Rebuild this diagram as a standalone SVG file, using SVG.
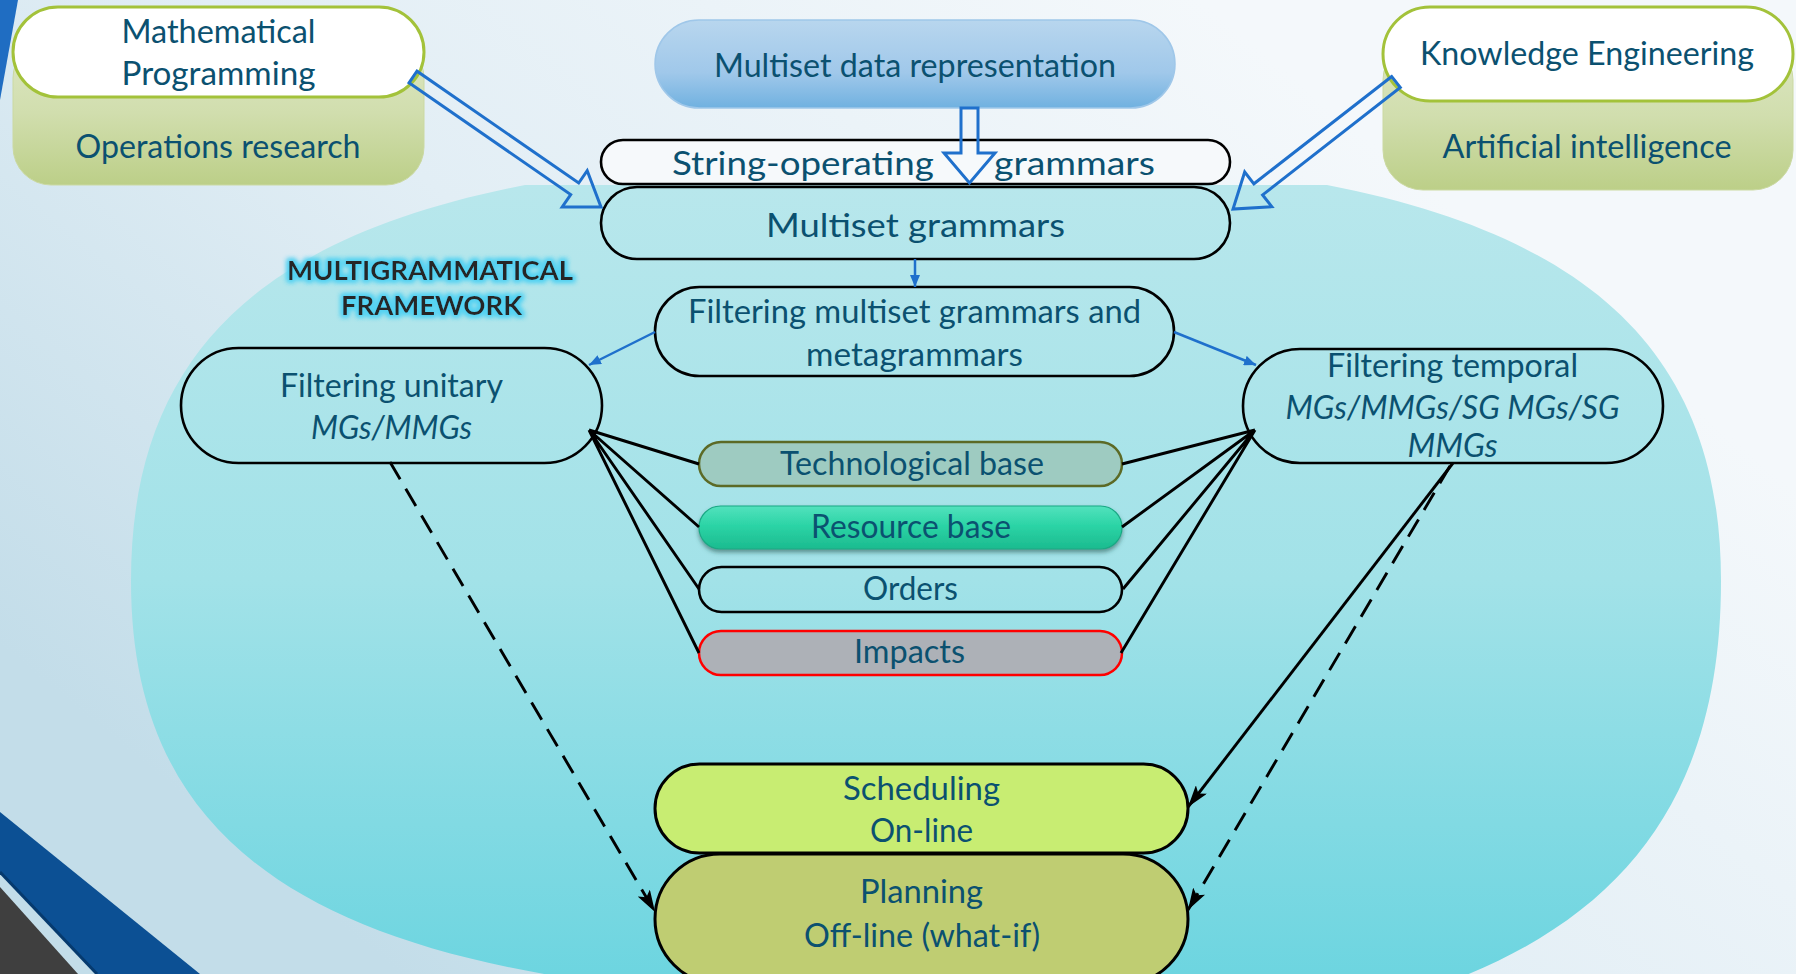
<svg xmlns="http://www.w3.org/2000/svg" width="1796" height="974" viewBox="0 0 1796 974">
<defs>
<style>
.t{font-family:Lato,"Open Sans","Liberation Sans",sans-serif;font-size:32px;fill:#0b5170;text-anchor:middle}
.i{font-style:italic}
.h{font-family:Lato,"Open Sans","Liberation Sans",sans-serif;font-size:27px;font-weight:bold;fill:#262626;text-anchor:middle}
.pill{stroke:#000;stroke-width:2.6}
.gp{fill:#fff;stroke:#a3c23a;stroke-width:3}
.gb{fill:url(#gGreen);stroke:#cbd9a2;stroke-width:1}
.conn{stroke:#000;stroke-width:2.9;fill:none}
.dash{stroke-dasharray:20 11}
.hollow{fill:none;stroke:#1f70cc;stroke-width:3}
.blue{stroke:#1f70cc;stroke-width:2.5;fill:none}
</style>
<linearGradient id="gBg" gradientUnits="userSpaceOnUse" x1="1200" y1="0" x2="400" y2="974">
<stop offset="0" stop-color="#f4f8fb"/><stop offset="0.5" stop-color="#e2eef5"/><stop offset="1" stop-color="#c3dde9"/>
</linearGradient>
<linearGradient id="gEll" gradientUnits="userSpaceOnUse" x1="0" y1="185" x2="0" y2="974">
<stop offset="0" stop-color="#b8e7ec"/><stop offset="0.5" stop-color="#a2e2e8"/><stop offset="1" stop-color="#6dd5e0"/>
</linearGradient>
<linearGradient id="gGreen" x1="0" y1="0" x2="0" y2="1">
<stop offset="0" stop-color="#dde7c4"/><stop offset="0.5" stop-color="#d1deae"/><stop offset="1" stop-color="#bccf88"/>
</linearGradient>
<linearGradient id="gData" x1="0" y1="0" x2="0" y2="1">
<stop offset="0" stop-color="#b8d6ee"/><stop offset="0.6" stop-color="#a0c8ea"/><stop offset="1" stop-color="#70b1e0"/>
</linearGradient>
<linearGradient id="gRes" x1="0" y1="0" x2="0" y2="1">
<stop offset="0" stop-color="#52e2bd"/><stop offset="0.45" stop-color="#2cd4a6"/><stop offset="1" stop-color="#1bbb8f"/>
</linearGradient>
<clipPath id="clipTop"><rect x="0" y="185" width="1796" height="789"/></clipPath>
<filter id="glow" x="-10%" y="-40%" width="120%" height="180%">
<feMorphology in="SourceAlpha" operator="dilate" radius="2" result="d"/>
<feGaussianBlur in="d" stdDeviation="2.5" result="b"/>
<feFlood flood-color="#55d2f2"/>
<feComposite in2="b" operator="in" result="g"/>
<feMerge><feMergeNode in="g"/><feMergeNode in="g"/><feMergeNode in="SourceGraphic"/></feMerge>
</filter>
<filter id="shadow" x="-5%" y="-30%" width="110%" height="170%">
<feDropShadow dx="0" dy="3" stdDeviation="2" flood-color="#1b4f4a" flood-opacity="0.55"/>
</filter>
<marker id="ab" viewBox="0 0 12 10" refX="12" refY="5" markerWidth="12" markerHeight="10" markerUnits="userSpaceOnUse" orient="auto">
<path d="M0,0 L12,5 L0,10 Z" fill="#1f70cc"/>
</marker>
<marker id="ak" viewBox="0 0 22 14" refX="22" refY="7" markerWidth="22" markerHeight="14" markerUnits="userSpaceOnUse" orient="auto">
<path d="M0,0 L22,7 L0,14 L5,7 Z" fill="#000"/>
</marker>
</defs>

<g id="background">
<rect x="0" y="0" width="1796" height="974" fill="url(#gBg)"/>
<polygon points="0,0 18,0 0,100" fill="#1f6dc2"/>
<polygon points="0,812 200,974 97,974 0,872" fill="#0c5094"/>
<line x1="0" y1="872" x2="97" y2="974" stroke="#063a6e" stroke-width="3"/>
<polygon points="0,887 78,974 0,974" fill="#3f3f3f"/>
</g>

<g id="framework">
<path clip-path="url(#clipTop)" d="M1721,581 C1721,278 1490.1,154 926,154 C361.9,154 131,278 131,581 C131,879 361.9,1001 926,1001 L926,1051 C1490.1,1051 1721,914.5 1721,581 Z" fill="url(#gEll)"/>
<text class="h" x="430" y="280" textLength="286" lengthAdjust="spacingAndGlyphs" filter="url(#glow)">MULTIGRAMMATICAL</text>
<text class="h" x="431.5" y="315" textLength="181" lengthAdjust="spacingAndGlyphs" filter="url(#glow)">FRAMEWORK</text>
</g>

<g id="operations-research">
<rect class="gb" x="13" y="40" width="411" height="145" rx="38"/>
<text class="t" x="218" y="158" textLength="285" lengthAdjust="spacingAndGlyphs">Operations research</text>
</g>
<g id="mathematical-programming">
<rect class="gp" x="13" y="7" width="411" height="90" rx="45"/>
<text class="t" x="218.5" y="43" textLength="194" lengthAdjust="spacingAndGlyphs">Mathematical</text>
<text class="t" x="218.5" y="85" textLength="194" lengthAdjust="spacingAndGlyphs">Programming</text>
</g>

<g id="artificial-intelligence">
<rect class="gb" x="1383" y="40" width="410" height="150" rx="40"/>
<text class="t" x="1587" y="158" textLength="289" lengthAdjust="spacingAndGlyphs">Artificial intelligence</text>
</g>
<g id="knowledge-engineering">
<rect class="gp" x="1383" y="7" width="410" height="94" rx="47"/>
<text class="t" x="1587" y="65" textLength="334" lengthAdjust="spacingAndGlyphs">Knowledge Engineering</text>
</g>

<g id="multiset-data-representation">
<rect x="655" y="20" width="520" height="88" rx="44" fill="url(#gData)" stroke="#9fc7e9" stroke-width="1.5"/>
<text class="t" x="915" y="77" textLength="402" lengthAdjust="spacingAndGlyphs">Multiset data representation</text>
</g>

<g id="string-operating-grammars">
<rect class="pill" x="601" y="140" width="629" height="44" rx="22" fill="#f6f9fb"/>
<text class="t" y="175"><tspan x="807" textLength="262" lengthAdjust="spacingAndGlyphs">String-operating</tspan> <tspan x="1074.5" textLength="161" lengthAdjust="spacingAndGlyphs">grammars</tspan></text>
</g>

<g id="multiset-grammars">
<rect class="pill" x="601" y="187" width="629" height="72" rx="36" fill="none"/>
<text class="t" x="915.5" y="237" textLength="299" lengthAdjust="spacingAndGlyphs">Multiset grammars</text>
</g>

<g id="filtering-multiset">
<rect class="pill" x="655" y="287" width="519" height="89" rx="44.5" fill="none"/>
<text class="t" x="914.5" y="323" textLength="453" lengthAdjust="spacingAndGlyphs">Filtering multiset grammars and</text>
<text class="t" x="914.5" y="366" textLength="217" lengthAdjust="spacingAndGlyphs">metagrammars</text>
</g>

<g id="filtering-unitary">
<rect class="pill" x="181" y="348" width="421" height="115" rx="57.5" fill="none"/>
<text class="t" x="391.5" y="397" textLength="223" lengthAdjust="spacingAndGlyphs">Filtering unitary</text>
<text class="t i" x="391.5" y="439" textLength="161" lengthAdjust="spacingAndGlyphs">MGs/MMGs</text>
</g>

<g id="filtering-temporal">
<rect class="pill" x="1243" y="349" width="420" height="114" rx="57" fill="none"/>
<text class="t" x="1452.5" y="377" textLength="251" lengthAdjust="spacingAndGlyphs">Filtering temporal</text>
<text class="t i" x="1452.5" y="419" textLength="334" lengthAdjust="spacingAndGlyphs">MGs/MMGs/SG MGs/SG</text>
<text class="t i" x="1452.5" y="457" textLength="90" lengthAdjust="spacingAndGlyphs">MMGs</text>
</g>

<g id="technological-base">
<rect x="699" y="442" width="423" height="44" rx="22" fill="#9ecbc1" stroke="#5c6a26" stroke-width="2.5"/>
<text class="t" x="912" y="475" textLength="264" lengthAdjust="spacingAndGlyphs">Technological base</text>
</g>

<g id="resource-base">
<rect x="699" y="506" width="423" height="43" rx="21.5" fill="url(#gRes)" stroke="#1aa884" stroke-width="1.2" filter="url(#shadow)"/>
<text class="t" x="911" y="538" textLength="200" lengthAdjust="spacingAndGlyphs">Resource base</text>
</g>

<g id="orders">
<rect class="pill" x="699" y="567" width="423" height="45" rx="22.5" fill="none"/>
<text class="t" x="910.5" y="600" textLength="95" lengthAdjust="spacingAndGlyphs">Orders</text>
</g>

<g id="impacts">
<rect x="699" y="631" width="423" height="44" rx="22" fill="#adb1b7" stroke="#ff0000" stroke-width="2.5"/>
<text class="t" x="909.5" y="663" textLength="111" lengthAdjust="spacingAndGlyphs">Impacts</text>
</g>

<g id="scheduling">
<rect x="655" y="764" width="533" height="89" rx="44.5" fill="#c8ed72" stroke="#000" stroke-width="3"/>
<text class="t" x="921.5" y="800" textLength="157" lengthAdjust="spacingAndGlyphs">Scheduling</text>
<text class="t" x="921.5" y="842" textLength="103" lengthAdjust="spacingAndGlyphs">On-line</text>
</g>

<g id="planning">
<rect x="655" y="854" width="533" height="130" rx="65" fill="#bfcd72" stroke="#000" stroke-width="3"/>
<text class="t" x="921.5" y="903" textLength="123" lengthAdjust="spacingAndGlyphs">Planning</text>
<text class="t" x="922" y="947" textLength="236" lengthAdjust="spacingAndGlyphs">Off-line (what-if)</text>
</g>

<g id="connectors">
<polygon class="hollow" points="409,82.8 570.7,194.6 562.2,206.9 601,207 587.2,170.7 578.7,183 417,71.2"/>
<polygon class="hollow" points="1391.7,76.5 1253.9,183.8 1244.7,172 1233,209 1271.8,206.7 1262.6,194.9 1400.3,87.5"/>
<polygon class="hollow" points="961,108 978,108 978,153 995,153 969.5,183 944,153 961,153"/>
<line class="blue" x1="915" y1="259" x2="915" y2="287" marker-end="url(#ab)"/>
<line class="blue" x1="655" y1="332" x2="589" y2="365" marker-end="url(#ab)"/>
<line class="blue" x1="1174" y1="332" x2="1256" y2="365" marker-end="url(#ab)"/>
<path class="conn" d="M589,430 L699,464 M589,430 L699,527 M589,430 L699,589 M589,430 L699,653"/>
<path class="conn" d="M1255,430 L1122,464 M1255,430 L1122,527 M1255,430 L1123,589 M1255,430 L1121,653"/>
<line class="conn" x1="1453" y1="463" x2="1188" y2="807" marker-end="url(#ak)"/>
<line class="conn dash" x1="1450" y1="466" x2="1188" y2="910" marker-end="url(#ak)"/>
<line class="conn dash" x1="390" y1="462" x2="655" y2="912" marker-end="url(#ak)"/>
</g>
</svg>
